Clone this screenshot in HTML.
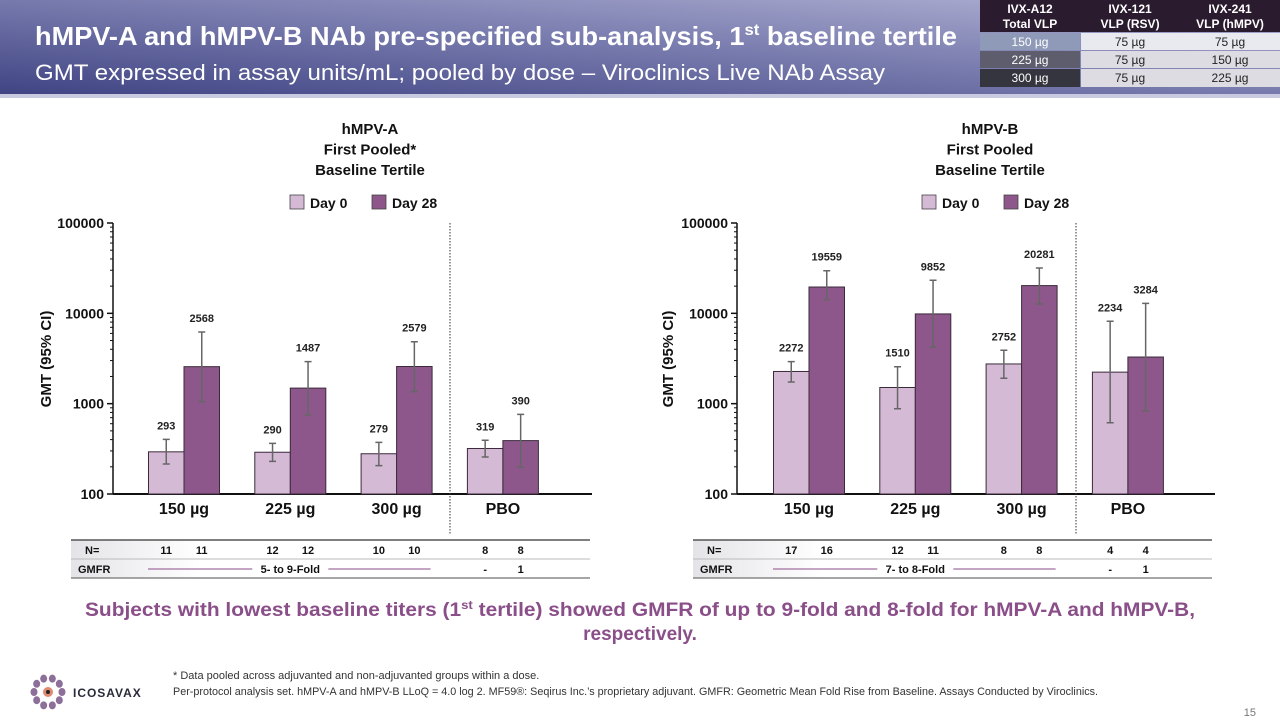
<!DOCTYPE html>
<html><head><meta charset="utf-8"><style>
html,body{margin:0;padding:0;background:#fff;}
svg{display:block;font-family:"Liberation Sans",Arial,sans-serif;}
</style></head><body>
<svg id="root" width="1280" height="720" viewBox="0 0 1280 720" xmlns="http://www.w3.org/2000/svg">
<defs>
<linearGradient id="hdr" x1="0" y1="1" x2="1" y2="0">
<stop offset="0" stop-color="#3f4383"/><stop offset="0.55" stop-color="#7c7fb0"/><stop offset="1" stop-color="#b3b4d6"/>
</linearGradient>
<linearGradient id="rowbg" x1="0" y1="0" x2="1" y2="0">
<stop offset="0" stop-color="#e4e4e8"/><stop offset="0.25" stop-color="#ffffff"/>
</linearGradient>
</defs>
<g>
<rect x="0" y="0" width="1280" height="96" fill="url(#hdr)"/>
<rect x="0" y="94" width="1280" height="4" fill="#c9cae0"/>
<text x="35" y="45" fill="#fff" font-size="26" font-weight="bold" textLength="922" lengthAdjust="spacingAndGlyphs">hMPV-A and hMPV-B NAb pre-specified sub-analysis, 1<tspan font-size="16" dy="-10">st</tspan><tspan dy="10"> baseline tertile</tspan></text>
<text x="35" y="80" fill="#fff" font-size="22" textLength="850" lengthAdjust="spacingAndGlyphs">GMT expressed in assay units/mL; pooled by dose – Viroclinics Live NAb Assay</text>
</g>
<g font-size="12" text-anchor="middle">
<rect x="980" y="0" width="300" height="32" fill="#2a1b2e"/>
<text x="1030" y="13" fill="#fff" font-weight="bold">IVX-A12</text>
<text x="1030" y="28" fill="#fff" font-weight="bold">Total VLP</text>
<text x="1130" y="13" fill="#fff" font-weight="bold">IVX-121</text>
<text x="1130" y="28" fill="#fff" font-weight="bold">VLP (RSV)</text>
<text x="1230" y="13" fill="#fff" font-weight="bold">IVX-241</text>
<text x="1230" y="28" fill="#fff" font-weight="bold">VLP (hMPV)</text>
<rect x="980" y="33" width="100" height="17" fill="#8f99b8"/>
<rect x="1081" y="33" width="199" height="17" fill="#e9eaef"/>
<rect x="980" y="51" width="100" height="17" fill="#5d5d6d"/>
<rect x="1081" y="51" width="199" height="17" fill="#dcdce2"/>
<rect x="980" y="69" width="100" height="18" fill="#35353f"/>
<rect x="1081" y="69" width="199" height="18" fill="#dcdce2"/>
<text x="1030" y="46" fill="#fff">150 µg</text><text x="1130" y="46" fill="#222">75 µg</text><text x="1230" y="46" fill="#222">75 µg</text>
<text x="1030" y="64" fill="#fff">225 µg</text><text x="1130" y="64" fill="#222">75 µg</text><text x="1230" y="64" fill="#222">150 µg</text>
<text x="1030" y="82" fill="#fff">300 µg</text><text x="1130" y="82" fill="#222">75 µg</text><text x="1230" y="82" fill="#222">225 µg</text>
</g>
<g id="chartA"></g>
<g id="chartB"></g>
<text x="640" y="616" text-anchor="middle" fill="#8a4e88" font-size="19" font-weight="bold" textLength="1110" lengthAdjust="spacingAndGlyphs">Subjects with lowest baseline titers (1<tspan font-size="12" dy="-7">st</tspan><tspan dy="7"> tertile) showed GMFR of up to 9-fold and 8-fold for hMPV-A and hMPV-B,</tspan></text>
<text x="640" y="640" text-anchor="middle" fill="#8a4e88" font-size="19" font-weight="bold">respectively.</text>
<g>
<g id="logoDots"></g>
<text x="73" y="697" font-size="12" fill="#2a2a3a" letter-spacing="2.2" font-weight="bold" textLength="70" lengthAdjust="spacing">ICOSAVAX</text>
</g>
<text x="173" y="679" font-size="11" fill="#333">* Data pooled across adjuvanted and non-adjuvanted groups within a dose.</text>
<text x="173" y="695" font-size="11" fill="#333" textLength="925" lengthAdjust="spacingAndGlyphs">Per-protocol analysis set. hMPV-A and hMPV-B LLoQ = 4.0 log 2. MF59®: Seqirus Inc.’s proprietary adjuvant. GMFR: Geometric Mean Fold Rise from Baseline. Assays Conducted by Viroclinics.</text>
<text x="1256" y="716" font-size="11" fill="#777" text-anchor="end">15</text>
</svg>
<script>
// ---- data ----
const categories = ["150 µg", "225 µg", "300 µg", "PBO"];
const seriesNames = ["Day 0", "Day 28"];
const tickValues = [100, 1000, 10000, 100000];
const tickLabels = ["100", "1000", "10000", "100000"];
const aDay0 = [293, 290, 279, 319];
const aDay28 = [2568, 1487, 2579, 390];
const aDay0Lo = [215, 230, 206, 257];
const aDay0Hi = [403, 364, 373, 393];
const aDay28Lo = [1052, 750, 1358, 198];
const aDay28Hi = [6210, 2917, 4850, 762];
const aNDay0 = ["11", "12", "10", "8"];
const aNDay28 = ["11", "12", "10", "8"];
const aGmfr = "5- to 9-Fold";
const aGmfrPbo = ["-", "1"];
const bDay0 = [2272, 1510, 2752, 2234];
const bDay28 = [19559, 9852, 20281, 3284];
const bDay0Lo = [1738, 879, 1910, 615];
const bDay0Hi = [2917, 2564, 3900, 8170];
const bDay28Lo = [14150, 4210, 12680, 830];
const bDay28Hi = [29650, 23230, 31780, 12900];
const bNDay0 = ["17", "12", "8", "4"];
const bNDay28 = ["16", "11", "8", "4"];
const bGmfr = "7- to 8-Fold";
const bGmfrPbo = ["-", "1"];

const NS = "http://www.w3.org/2000/svg";
function mk(parent, tag, attrs, text) {
  const e = document.createElementNS(NS, tag);
  for (const k in attrs) e.setAttribute(k, attrs[k]);
  if (text !== undefined) e.textContent = text;
  parent.appendChild(e);
  return e;
}
const C0 = "#d5bad5", C1 = "#8e578b";

function drawChart(g, o) {
  const base = 494, top = 223, axisX = o.axisX;
  const y = v => base - (Math.log10(v) - 2) / 3 * (base - top);
  const cx = i => o.first + i * o.step;
  const bw = 35.5;
  o.title.forEach((t, i) => {
    const e = mk(g, "text", {x: o.titleX, y: 134 + i * 20.5, "text-anchor": "middle", "font-size": 15, "font-weight": "bold", fill: "#111"}, t);
    
    
  });
  [C0, C1].forEach((c, i) => {
    const lx = o.legendX + i * 82;
    const r = mk(g, "rect", {x: lx, y: 195, width: 14, height: 14, fill: c, stroke: "#444", "stroke-width": 0.8});
    
    
    const t = mk(g, "text", {x: lx + 20, y: 208, "font-size": 14, "font-weight": "bold", fill: "#111"}, seriesNames[i]);
    
    
  });
  const ax = mk(g, "line", {x1: axisX, y1: top, x2: axisX, y2: base, stroke: "#111", "stroke-width": 1.5});
  
  
  for (let d = 2; d < 5; d++) {
    for (let m = 2; m <= 9; m++) {
      const yy = y(m * Math.pow(10, d));
      mk(g, "line", {x1: axisX - 3, y1: yy, x2: axisX, y2: yy, stroke: "#111", "stroke-width": 1});
    }
  }
  tickValues.forEach((v, i) => {
    mk(g, "line", {x1: axisX - 6, y1: y(v), x2: axisX, y2: y(v), stroke: "#111", "stroke-width": 1.5});
    const t = mk(g, "text", {x: axisX - 9, y: y(v) + 5, "text-anchor": "end", "font-size": 14, "font-weight": "bold", fill: "#111"}, tickLabels[i]);
    
    
  });
  const yt = mk(g, "text", {x: 0, y: 0, transform: `translate(${o.yTitleX},359) rotate(-90)`, "text-anchor": "middle", "font-size": 15, "font-weight": "bold", fill: "#111"}, "GMT (95% CI)");
  
  
  const xa = mk(g, "line", {x1: axisX, y1: base, x2: o.axisEnd, y2: base, stroke: "#111", "stroke-width": 2});
  
  
  const dl = mk(g, "line", {x1: o.divX, y1: top, x2: o.divX, y2: 535, stroke: "#333", "stroke-width": 1, "stroke-dasharray": "1.5,1.5"});
  
  
  const sets = [[o.d0, o.d0Lo, o.d0Hi, C0], [o.d1, o.d1Lo, o.d1Hi, C1]];
  categories.forEach((cat, i) => {
    sets.forEach((s, j) => {
      const x0 = cx(i) - bw + j * bw;
      const b = mk(g, "rect", {x: x0, y: y(s[0][i]), width: bw, height: base - y(s[0][i]), fill: s[3], stroke: "#3a2a3a", "stroke-width": 1});
      
      
      const ex = x0 + bw / 2, yh = y(s[2][i]), yl = y(s[1][i]);
      const eb = mk(g, "path", {d: `M${ex},${yh}V${yl}M${ex - 3.5},${yh}H${ex + 3.5}M${ex - 3.5},${yl}H${ex + 3.5}`, stroke: "#666", "stroke-width": 1.5, fill: "none"});
      
      
      const lb = mk(g, "text", {x: ex, y: yh - 10, "text-anchor": "middle", "font-size": 11, "font-weight": "bold", fill: "#222"}, String(s[0][i]));
      
      
    });
    const ct = mk(g, "text", {x: cx(i), y: 514, "text-anchor": "middle", "font-size": 16, "font-weight": "bold", fill: "#111"}, cat);
    
    
  });
  const tx = o.tableX, tw = o.tableW;
  mk(g, "rect", {x: tx, y: 540, width: tw, height: 38, fill: "url(#rowbg)"});
  mk(g, "line", {x1: tx, y1: 540, x2: tx + tw, y2: 540, stroke: "#555", "stroke-width": 1.5});
  mk(g, "line", {x1: tx, y1: 559, x2: tx + tw, y2: 559, stroke: "#bbb", "stroke-width": 1});
  mk(g, "line", {x1: tx, y1: 578, x2: tx + tw, y2: 578, stroke: "#888", "stroke-width": 1.5});
  const nl = mk(g, "text", {x: tx + 14, y: 554, "font-size": 11, "font-weight": "bold", fill: "#111"}, "N=");
  
  
  const gl = mk(g, "text", {x: tx + 7, y: 573, "font-size": 11, "font-weight": "bold", fill: "#111"}, "GMFR");
  
  
  categories.forEach((c, i) => {
    [o.n0, o.n1].forEach((arr, j) => {
      const t = mk(g, "text", {x: cx(i) - bw / 2 + j * bw, y: 554, "text-anchor": "middle", "font-size": 11, "font-weight": "bold", fill: "#111"}, arr[i]);
      
      
    });
  });
  const mid = (cx(0) + cx(2)) / 2;
  const gt = mk(g, "text", {x: mid, y: 573, "text-anchor": "middle", "font-size": 11, "font-weight": "bold", fill: "#111"}, o.gmfr);
  
  
  mk(g, "line", {x1: cx(0) - 36, y1: 569, x2: mid - 38, y2: 569, stroke: "#8a4e88", "stroke-width": 1});
  mk(g, "line", {x1: mid + 38, y1: 569, x2: cx(2) + 34, y2: 569, stroke: "#8a4e88", "stroke-width": 1});
  o.gp.forEach((v, j) => {
    const t = mk(g, "text", {x: cx(3) - bw / 2 + j * bw, y: 573, "text-anchor": "middle", "font-size": 11, "font-weight": "bold", fill: "#111"}, v);
    
    
  });
}

drawChart(document.getElementById("chartA"), {
  axisX: 113, axisEnd: 592, first: 184, step: 106.3, divX: 450,
  title: ["hMPV-A", "First Pooled*", "Baseline Tertile"], titleX: 370, legendX: 290, yTitleX: 51,
  d0: aDay0, d0Lo: aDay0Lo, d0Hi: aDay0Hi, d1: aDay28, d1Lo: aDay28Lo, d1Hi: aDay28Hi,
  n0: aNDay0, n1: aNDay28, gmfr: aGmfr, gp: aGmfrPbo, tableX: 71, tableW: 519
});
drawChart(document.getElementById("chartB"), {
  axisX: 737, axisEnd: 1215, first: 809, step: 106.3, divX: 1076,
  title: ["hMPV-B", "First Pooled", "Baseline Tertile"], titleX: 990, legendX: 922, yTitleX: 673,
  d0: bDay0, d0Lo: bDay0Lo, d0Hi: bDay0Hi, d1: bDay28, d1Lo: bDay28Lo, d1Hi: bDay28Hi,
  n0: bNDay0, n1: bNDay28, gmfr: bGmfr, gp: bGmfrPbo, tableX: 693, tableW: 519
});

const lg = document.getElementById("logoDots");
for (let k = 0; k < 10; k++) {
  const a = k / 10 * 2 * Math.PI;
  const d = mk(lg, "ellipse", {cx: 48 + Math.cos(a) * 14, cy: 692 + Math.sin(a) * 14, rx: 3.5, ry: 4, fill: "#8d6f9a"});
  
  
}
mk(lg, "circle", {cx: 48, cy: 692, r: 5, fill: "#e08a70"});
mk(lg, "circle", {cx: 48, cy: 692, r: 2, fill: "#222"});
</script>
</body></html>
